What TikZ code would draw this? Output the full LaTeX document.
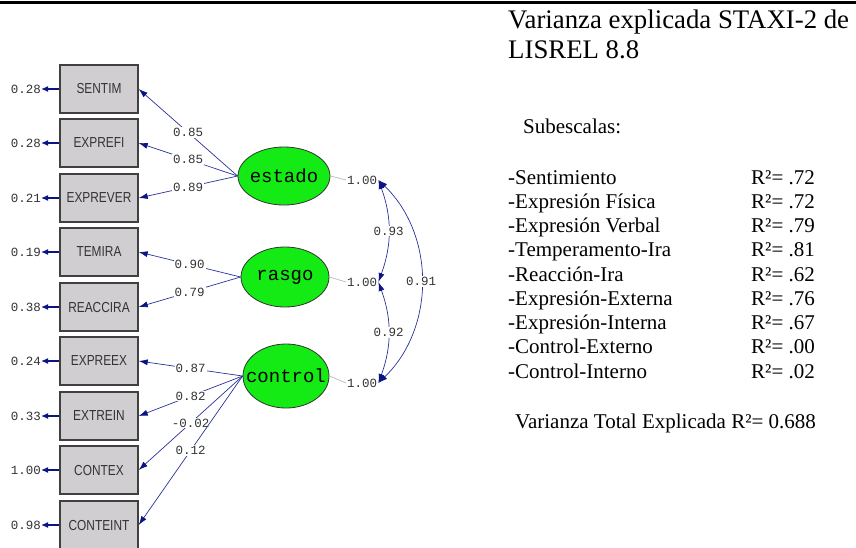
\documentclass[tikz,border=0pt]{standalone}
\usepackage{fontspec}
\setmainfont{Liberation Serif}
\newfontfamily\boxfont[FakeStretch=0.82]{Liberation Sans}
\newfontfamily\monofont{Liberation Mono}
\usetikzlibrary{arrows.meta,shapes.geometric}
\definecolor{lisrelblue}{RGB}{40,50,155}
\definecolor{tipblue}{RGB}{10,20,130}
\definecolor{latgreen}{RGB}{20,235,20}
\definecolor{boxgray}{RGB}{208,206,208}

\begin{document}
\begin{tikzpicture}[
    x=1pt, y=-1pt,
    observed/.style={rectangle, draw=black!75, line width=1.4pt, fill=boxgray, minimum width=78, minimum height=48, inner sep=0pt, font=\boxfont\fontsize{14.5}{16}\selectfont, text=black!80},
    latent/.style={ellipse, draw=black!80, line width=0.8pt, fill=latgreen, minimum width=90, minimum height=60, inner sep=0pt},
    lattext/.style={font=\monofont\fontsize{19}{22}\selectfont},
    coef/.style={fill=white, inner sep=1pt, font=\monofont\fontsize{12.5}{14}\selectfont, text=black!80},
    errlabel/.style={anchor=east, inner sep=0pt, font=\monofont\fontsize{12.5}{14}\selectfont, text=black!80},
    varlabel/.style={anchor=west, inner sep=1pt, font=\monofont\fontsize{12.5}{14}\selectfont, text=black!80},
    errarrow/.style={draw=tipblue, line width=1.3pt, -{Latex[length=7pt,width=6pt]}},
    load/.style={draw=lisrelblue, line width=0.7pt, -{Latex[length=9pt,width=6pt,color=tipblue]}},
    corr/.style={draw=lisrelblue, line width=0.7pt, {Latex[length=9pt,width=6pt,color=tipblue]}-{Latex[length=9pt,width=6pt,color=tipblue]}},
    texto/.style={anchor=base west, inner sep=0pt, font=\fontsize{21}{24}\selectfont},
    titulo/.style={anchor=base west, inner sep=0pt, font=\fontsize{26.8}{30}\selectfont}
]
\useasboundingbox (0,0) rectangle (856,547);
\clip (0,0) rectangle (856,547);

% Linea superior
\draw[line width=2.5pt] (0,2.5) -- (856,2.5);

% Variables observadas
\node[observed] (sentim)   at (99,89)  {SENTIM};
\node[observed] (exprefi)  at (99,143) {EXPREFI};
\node[observed] (exprever) at (99,198) {EXPREVER};
\node[observed] (temira)   at (99,252) {TEMIRA};
\node[observed] (reaccira) at (99,307) {REACCIRA};
\node[observed] (expreex)  at (99,361) {EXPREEX};
\node[observed] (extrein)  at (99,416) {EXTREIN};
\node[observed] (contex)   at (99,470) {CONTEX};
\node[observed] (conteint) at (99,525) {CONTEINT};

% Errores
\node[errlabel] (e1) at (41,89)  {0.28};
\node[errlabel] (e2) at (41,143) {0.28};
\node[errlabel] (e3) at (41,198) {0.21};
\node[errlabel] (e4) at (41,252) {0.19};
\node[errlabel] (e5) at (41,307) {0.38};
\node[errlabel] (e6) at (41,361) {0.24};
\node[errlabel] (e7) at (41,416) {0.33};
\node[errlabel] (e8) at (41,470) {1.00};
\node[errlabel] (e9) at (41,525) {0.98};
\draw[errarrow] (sentim.west) -- (e1.east);
\draw[errarrow] (exprefi.west) -- (e2.east);
\draw[errarrow] (exprever.west) -- (e3.east);
\draw[errarrow] (temira.west) -- (e4.east);
\draw[errarrow] (reaccira.west) -- (e5.east);
\draw[errarrow] (expreex.west) -- (e6.east);
\draw[errarrow] (extrein.west) -- (e7.east);
\draw[errarrow] (contex.west) -- (e8.east);
\draw[errarrow] (conteint.west) -- (e9.east);

% Variables latentes
\node[latent, minimum width=92, minimum height=58, label={[lattext]center:estado}] (estado) at (284,176) {};
\node[latent, minimum width=88, label={[lattext]center:rasgo}] (rasgo) at (285,277) {};
\node[latent, minimum width=86, minimum height=64, label={[lattext]center:control}] (control) at (286,376) {};

% Cargas factoriales
\draw[load] (estado.west) -- node[coef] {0.85} (sentim.east);
\draw[load] (estado.west) -- node[coef] {0.85} (exprefi.east);
\draw[load] (estado.west) -- node[coef] {0.89} (exprever.east);
\draw[load] (rasgo.west) -- node[coef] {0.90} (temira.east);
\draw[load] (rasgo.west) -- node[coef] {0.79} (reaccira.east);
\draw[load] (control.west) -- node[coef] {0.87} (expreex.east);
\draw[load] (control.west) -- node[coef] {0.82} (extrein.east);
\draw[load] (control.west) -- node[coef] {-0.02} (contex.east);
\draw[load] (control.west) -- node[coef] {0.12} (conteint.east);

% Varianzas y correlaciones
\node[varlabel] (v1) at (346,180) {1.00};
\node[varlabel] (v2) at (346,282) {1.00};
\node[varlabel] (v3) at (346,383) {1.00};
\draw[black!25, line width=0.8pt] (estado.east) -- (v1.west);
\draw[black!25, line width=0.8pt] (rasgo.east) -- (v2.west);
\draw[black!25, line width=0.8pt] (control.east) -- (v3.west);
\draw[corr] (v1.east) to[bend left=20] node[coef] {0.93} (v2.east);
\draw[corr] (v2.east) to[bend left=20] node[coef] {0.92} (v3.east);
\draw[corr] (v1.east) to[bend left=46] node[coef] {0.91} (v3.east);

% Texto explicativo
\node[titulo] (tit1) at (508,28) {Varianza explicada STAXI-2 de};
\node[titulo] (tit2) at (508,58) {LISREL 8.8};
\node[texto] (subesc) at (523,133) {Subescalas:};

\node[texto] (s1) at (508,184)    {-Sentimiento};
\node[texto] (s2) at (508,208.25) {-Expresión Física};
\node[texto] (s3) at (508,232.5)  {-Expresión Verbal};
\node[texto] (s4) at (508,256.75) {-Temperamento-Ira};
\node[texto] (s5) at (508,281)    {-Reacción-Ira};
\node[texto] (s6) at (508,305.25) {-Expresión-Externa};
\node[texto] (s7) at (508,329.5)  {-Expresión-Interna};
\node[texto] (s8) at (508,353.75) {-Control-Externo};
\node[texto] (s9) at (508,378)    {-Control-Interno};

\node[texto] (r1) at (751,184)    {R²= .72};
\node[texto] (r2) at (751,208.25) {R²= .72};
\node[texto] (r3) at (751,232.5)  {R²= .79};
\node[texto] (r4) at (751,256.75) {R²= .81};
\node[texto] (r5) at (751,281)    {R²= .62};
\node[texto] (r6) at (751,305.25) {R²= .76};
\node[texto] (r7) at (751,329.5)  {R²= .67};
\node[texto] (r8) at (751,353.75) {R²= .00};
\node[texto] (r9) at (751,378)    {R²= .02};

\node[texto] (total) at (515,428) {Varianza Total Explicada R²= 0.688};

\end{tikzpicture}
\end{document}
